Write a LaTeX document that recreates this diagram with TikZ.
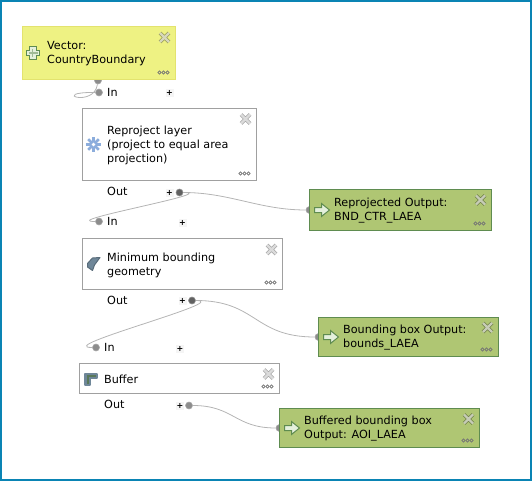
\documentclass[tikz,border=0pt]{standalone}
\usepackage{fontspec}
\setmainfont{DejaVu Sans}
\usepackage{tikz}
\usetikzlibrary{shapes, arrows, positioning, fit, calc}

\definecolor{framecol}{HTML}{0A84B4}
\definecolor{inputfill}{HTML}{EEF283}
\definecolor{inputline}{HTML}{E3E36E}
\definecolor{outputfill}{HTML}{AFC673}
\definecolor{outputline}{HTML}{5F8C50}
\definecolor{algoline}{HTML}{A0A0A0}
\definecolor{wirecol}{HTML}{B4B4B4}
\definecolor{iconcol}{HTML}{6F8799}
\definecolor{cogcol}{HTML}{8CADDC}
\definecolor{arrowfill}{HTML}{E4F0DC}

\begin{document}
\begin{tikzpicture}[
    x=1pt, y=-1pt,
    box/.style={rectangle, anchor=north west, inner sep=0pt, outer sep=0pt, line width=1pt},
    inputbox/.style={box, draw=inputline, fill=inputfill},
    algobox/.style={box, draw=algoline, fill=white},
    outputbox/.style={box, draw=outputline, fill=outputfill},
    boxtext/.style={anchor=west, align=left, inner sep=0pt, yshift=-1pt, font=\fontsize{11.2}{14}\selectfont},
    portlabel/.style={anchor=west, inner sep=0pt, font=\fontsize{11.2}{14}\selectfont},
    plusmark/.style={inner sep=0pt, minimum size=8pt, fill=black!4, font=\fontsize{8}{8}\selectfont\bfseries},
    portin/.style={circle, inner sep=0pt, minimum size=7pt, fill=black!45, draw=black!35, line width=0.6pt},
    portout/.style={circle, inner sep=0pt, minimum size=7pt, fill=black!62, draw=black!45, line width=0.6pt},
    wire/.style={wirecol, line width=0.8pt},
    closemark/.pic={
        \draw[black, opacity=0.35, line width=3.6pt] (-4.5,-4.5) -- (4.5,4.5) (-4.5,4.5) -- (4.5,-4.5);
        \draw[white, opacity=0.6, line width=2.2pt] (-4.5,-4.5) -- (4.5,4.5) (-4.5,4.5) -- (4.5,-4.5);
    },
    moremark/.pic={
        \foreach \dx in {-4,0,4} \draw[black!55, line width=0.6pt] (\dx,0) circle (1.6);
    },
    exportmark/.pic={
        \draw[outputline, fill=arrowfill, line width=1pt, line join=miter]
            (-7,-2.5) -- (0,-2.5) -- (0,-6.5) -- (8,0) -- (0,6.5) -- (0,2.5) -- (-7,2.5) -- cycle;
    }
]
    % Window frame
    \useasboundingbox (0,0) rectangle (532,481);
    \draw[framecol, line width=2pt] (1,1) rectangle (531,480);

    % Ports
    \node (srcout) [portin] at (98,80.5) {};
    \node (reprojin) [portin] at (99,92.5) {};
    \node (reprojout) [portout] at (179.5,192.5) {};
    \node (mbgin) [portin] at (99,221.5) {};
    \node (mbgout) [portout] at (192,300.5) {};
    \node (bufferin) [portin] at (96,347.5) {};
    \node (bufferout) [portin] at (189,405.5) {};
    \node (repoutin) [portin] at (309.5,210) {};
    \node (boundsin) [portin] at (318.5,337) {};
    \node (aoiin) [portin] at (279.5,428) {};

    % Connectors
    \draw[wire] (srcout) .. controls +(-4,28) and +(-51,-0.5) .. (reprojin);
    \draw[wire] (reprojout) .. controls +(42,0) and +(-42,0) .. (mbgin);
    \draw[wire] (reprojout) .. controls +(50,0) and +(-50,0) .. (repoutin);
    \draw[wire] (mbgout) .. controls +(42,0) and +(-44,0) .. (bufferin);
    \draw[wire] (mbgout) .. controls +(65,0) and +(-65,0) .. (boundsin);
    \draw[wire] (bufferout) .. controls +(45,0) and +(-45,0) .. (aoiin);

    % Boxes
    \node (vector) [inputbox, minimum width=153pt, minimum height=53pt] at (22.5,26.5) {};
    \node (reproject) [algobox, minimum width=174pt, minimum height=72pt] at (82.5,108.5) {};
    \node (mbg) [algobox, minimum width=200pt, minimum height=51pt] at (82.5,238.5) {};
    \node (buffer) [algobox, minimum width=200pt, minimum height=30pt] at (79.5,363.5) {};
    \node (repout) [outputbox, minimum width=182pt, minimum height=41pt] at (309.5,189.5) {};
    \node (boundsout) [outputbox, minimum width=180pt, minimum height=39pt] at (318.5,317.5) {};
    \node (aoiout) [outputbox, minimum width=200pt, minimum height=39pt] at (279.5,408.5) {};

    % Box texts
    \node (vectortext) [boxtext] at ([xshift=24.5pt]vector.west) {Vector:\\CountryBoundary};
    \node (reprojecttext) [boxtext] at ([xshift=24.5pt]reproject.west) {Reproject layer\\(project to equal area\\projection)};
    \node (mbgtext) [boxtext] at ([xshift=24.5pt]mbg.west) {Minimum bounding\\geometry};
    \node (buffertext) [boxtext] at ([xshift=24.5pt]buffer.west) {Buffer};
    \node (repouttext) [boxtext] at ([xshift=24.5pt]repout.west) {Reprojected Output:\\BND\_CTR\_LAEA};
    \node (boundsouttext) [boxtext] at ([xshift=24.5pt]boundsout.west) {Bounding box Output:\\bounds\_LAEA};
    \node (aoiouttext) [boxtext] at ([xshift=24.5pt]aoiout.west) {Buffered bounding box\\Output: AOI\_LAEA};

    % Port labels and add marks
    \node (reprojinlabel) [portlabel] at (107,92.5) {In};
    \node (reprojoutlabel) [portlabel] at (107,191.5) {Out};
    \node (mbginlabel) [portlabel] at (107,221.5) {In};
    \node (mbgoutlabel) [portlabel] at (107,300.5) {Out};
    \node (bufferinlabel) [portlabel] at (104,347.5) {In};
    \node (bufferoutlabel) [portlabel] at (104,404.5) {Out};
    \node (reprojinadd) [plusmark] at (169.5,93) {+};
    \node (reprojoutadd) [plusmark] at (169.5,192.5) {+};
    \node (mbginadd) [plusmark] at (182.5,223) {+};
    \node (mbgoutadd) [plusmark] at (182.5,301) {+};
    \node (bufferinadd) [plusmark] at (180,349) {+};
    \node (bufferoutadd) [plusmark] at (180,405.5) {+};

    % Close and more marks
    \foreach \b/\dy in {vector/11, reproject/10.5, mbg/11, buffer/10.5, repout/10.5, boundsout/10, aoiout/10.5} {
        \pic at ([shift={(-11,\dy)}]\b.north east) {closemark};
        \pic at ([shift={(-12,-7)}]\b.south east) {moremark};
    }

    % Box icons
    \draw[outputline, fill=arrowfill, line width=1pt]
        (29.5,47) -- (36,47) -- (36,50.5) -- (39.5,50.5) -- (39.5,56) -- (36,56) -- (36,59.5)
        -- (29.5,59.5) -- (29.5,56) -- (26.5,56) -- (26.5,50.5) -- (29.5,50.5) -- cycle;
    \draw[outputline!60, line width=1.5pt] (32.7,49.5) -- (32.7,57) (28.5,53.2) -- (37.5,53.2);
    \foreach \a in {0,45,...,315}
        \draw[cogcol, line width=2.6pt] (93.5,144.5) -- ++(\a:7.5);
    \fill[white] (93.5,144.5) circle (1.8);
    \draw[iconcol!80!black, fill=iconcol, line width=1pt, line join=round]
        (100,257.5) -- (92.5,258) -- (87.5,263.5) -- (87.5,267) -- (92.5,270.5) -- (94.5,265) -- cycle;
    \draw[iconcol, fill=iconcol, line width=2pt, line join=round]
        (85,374) -- (97,374) -- (97,378) -- (90,378) -- (90,385) -- (85,385) -- cycle;
    \draw[black!60!green!30!gray, line width=1.3pt] (96,376) -- (88,376) -- (88,384);
    \pic at ([xshift=12pt]repout.west) {exportmark};
    \pic at ([xshift=12pt]boundsout.west) {exportmark};
    \pic at ([xshift=12pt]aoiout.west) {exportmark};
\end{tikzpicture}
\end{document}
